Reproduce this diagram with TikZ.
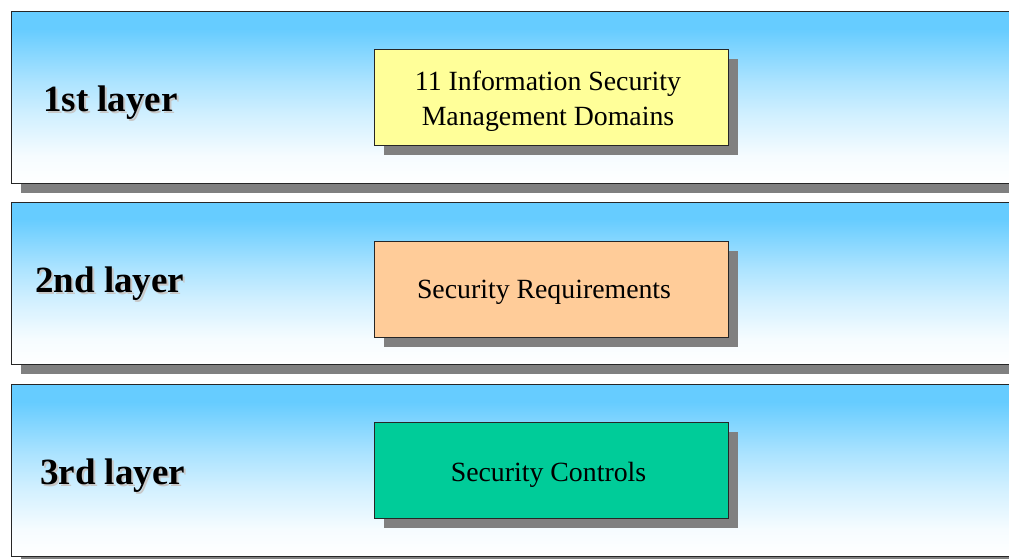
\documentclass[tikz,border=0pt]{standalone}
\usepackage{fontspec}
\setmainfont{Liberation Serif}
\usetikzlibrary{shadows}
\definecolor{sky}{HTML}{66CCFF}
\definecolor{boxA}{HTML}{FFFF99}
\definecolor{boxB}{HTML}{FFCC99}
\definecolor{boxC}{HTML}{00CC99}
\definecolor{shadowc}{HTML}{808080}
\pgfdeclareverticalshading{bandshade}{100bp}{color(0bp)=(white); color(25bp)=(white); color(33bp)=(sky!6!white); color(45bp)=(sky!30!white); color(55bp)=(sky!55!white); color(65bp)=(sky!85!white); color(70bp)=(sky); color(100bp)=(sky)}
\begin{document}
\begin{tikzpicture}[x=1pt,y=-1pt,
  band/.style={draw=black!85, line width=1.2pt, shade, shading=bandshade,
    minimum width=1040pt, inner sep=0pt, anchor=north west,
    drop shadow={shadow xshift=9pt, shadow yshift=-9pt, fill=shadowc, opacity=1, draw=none}},
  layerbox/.style={draw=black!85, line width=0.8pt, minimum width=354pt, minimum height=96pt,
    inner sep=0pt, anchor=north west,
    drop shadow={shadow xshift=10pt, shadow yshift=-10pt, fill=shadowc, opacity=1, draw=none}},
  boxtext/.style={font=\fontsize{27.8}{35}\selectfont, align=center, anchor=base, inner sep=0pt},
  lbl/.style={font=\fontsize{37}{40}\selectfont\bfseries, anchor=base west, inner sep=0pt},
  lblshadow/.style={lbl, text=black!22}
]
\useasboundingbox (0,0) rectangle (1009,558);
\clip (0,0) rectangle (1009,558);
\fill[white] (0,0) rectangle (1009,558);

% bands
\node[band, minimum height=172pt] (b1) at (11,11) {};
\node[band, minimum height=162pt] (b2) at (11,202) {};
\node[band, minimum height=172pt] (b3) at (11,384) {};

% layer labels
\node[lblshadow] (l1s) at (45,113) {1st layer};
\node[lbl] (l1) at (43,111) {1st layer};
\node[lblshadow] (l2s) at (37,294) {2nd layer};
\node[lbl] (l2) at (35,292) {2nd layer};
\node[lblshadow] (l3s) at (42,486) {3rd layer};
\node[lbl] (l3) at (40,484) {3rd layer};

% boxes
\node[layerbox, fill=boxA] (n1) at (374,49) {};
\node[layerbox, fill=boxB] (n2) at (374,240.5) {};
\node[layerbox, fill=boxC] (n3) at (374,422) {};

\node[boxtext] (t1) at (548,125) {11 Information Security\\Management Domains};
\node[boxtext] (t2) at (544,298) {Security Requirements};
\node[boxtext] (t3) at (548.5,481) {Security Controls};
\end{tikzpicture}
\end{document}
